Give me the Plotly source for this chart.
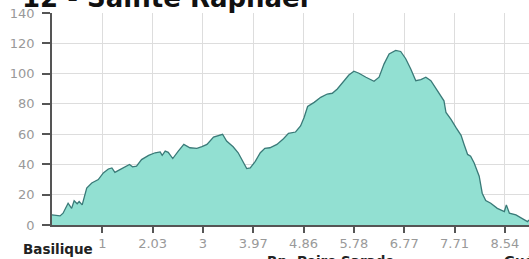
import plotly.graph_objects as go

# sample position along the profile (index axis, 10 samples per tick)
pos = [0, 1.6, 2.2, 3.2, 3.9, 4.4, 5.0, 5.4, 6.0, 6.9, 7.9, 9.2, 10.2, 11.2, 11.9, 12.5, 13.5, 14.5, 15.4, 16.0,
       16.8, 17.8, 19.2, 20.5, 21.5, 21.9, 22.5, 23.1, 24.0, 25.1, 26.2, 27.4, 28.8, 29.8, 30.8, 32.1, 33.1, 33.9,
       34.7, 36.0, 37.0, 38.0, 38.7, 39.4, 40.4, 41.4, 42.3, 43.3, 44.7, 46.0, 47.0,
       48.4, 49.4, 50.1, 50.8, 52.1, 53.4, 54.7, 55.7, 56.7, 58.1, 59.0, 60.0, 61.0, 62.4, 64.0, 65.0, 66.0, 67.0,
       68.3, 69.3, 70.3, 71.3, 72.3, 73.3, 74.3, 75.3, 76.3, 77.3, 77.9, 78.3, 79.3, 80.3, 80.9, 81.3, 81.9, 82.6,
       83.2, 83.9, 84.9, 85.5, 86.2, 87.2, 88.5, 89.9, 90.3, 90.9, 92.2, 93.5, 94.5, 94.8]
elev = [6.7, 6, 7.8, 14.4, 11, 16, 14, 15.5, 13.3, 24.4, 27.7, 30, 34.4, 37, 37.7, 34.8, 36.6, 38.4, 40, 38.4,
        38.8, 43.2, 46, 47.7, 48.3, 46, 48.8, 48, 43.9, 48.8, 53.2, 51, 50.6, 51.7, 53.2, 58, 59.2, 59.9,
        55.4, 51.7, 47.7, 41, 37.3, 37.7, 42, 47.7, 50.6, 51, 53.2, 57, 60.5,
        61.4, 65.4, 71, 78.3, 81, 84.3, 86.5, 87, 89.8, 95.3, 99, 101.6, 100.2, 97.6, 94.9, 97.6, 106.4, 113,
        115.3, 114.6, 109.8, 103, 95.3, 96, 97.6, 95.3, 90.2, 85.4, 82, 74.3, 69.8, 64.3, 61, 59.2, 53.2, 46.6,
        45.5, 41, 32.2, 21, 16.2, 14.4, 11, 8.9, 13.3, 7.8, 6.7, 4.4, 2.2, 3.3]

tick_pos = [10, 20, 30, 40, 50, 60, 70, 80, 90]
km_labels = ["1", "2.03", "3", "3.97", "4.86", "5.78", "6.77", "7.71", "8.54"]

waypoints = ["Basilique", "Rp. Peire Sarade", "Gué"]
waypoint_pos = [1.2, 55.5, 89.5]

title = "12 - Sainte Raphaël"

fig = go.Figure()
fig.add_trace(go.Scatter(
    x=pos, y=elev, mode="lines", fill="tozeroy",
    fillcolor="#92e0d2", line=dict(color="#3a7a78", width=1.3),
    hoverinfo="skip", showlegend=False,
))

fig.update_layout(
    width=529, height=259,
    margin=dict(l=52, r=0, t=13, b=34, pad=0),
    paper_bgcolor="white", plot_bgcolor="white",
    font=dict(family="DejaVu Sans", size=12, color="#999999"),
    xaxis=dict(
        range=[0, 94.8], tickmode="array", tickvals=tick_pos, ticktext=km_labels,
        showgrid=True, gridcolor="#dddddd", gridwidth=1,
        showline=True, linecolor="#555555", linewidth=1.5,
        ticks="outside", ticklen=6, tickcolor="#555555", tickwidth=1.5,
        tickfont=dict(size=13, color="#999999"), zeroline=False, automargin=False,
    ),
    yaxis=dict(
        range=[0, 140], tickmode="array", tickvals=[0, 20, 40, 60, 80, 100, 120, 140],
        showgrid=True, gridcolor="#dddddd", gridwidth=1,
        showline=True, linecolor="#555555", linewidth=1.5,
        ticks="outside", ticklen=8, tickcolor="#555555", tickwidth=1.5,
        ticklabelstandoff=5,
        tickfont=dict(size=13, color="#999999"), zeroline=False, automargin=False,
    ),
)

fig.add_annotation(text=title, xref="paper", yref="paper", x=-32/477, y=1.0, yshift=-2,
                   xanchor="left", yanchor="bottom", showarrow=False,
                   font=dict(family="DejaVu Sans", size=26, color="#111111", weight="bold"))

rows = [-0.111, -0.168, -0.168]
anchors = ["center", "center", "left"]
for name, p, r, a in zip(waypoints, waypoint_pos, rows, anchors):
    fig.add_annotation(text=name, xref="x", yref="paper", x=p, y=r,
                       xanchor=a, yanchor="middle", showarrow=False,
                       font=dict(family="DejaVu Sans", size=13.5, color="#222222", weight="bold"))

fig.write_html("out.html", config={"displayModeBar": False},
               post_script="document.body.style.margin='0';document.body.style.overflow='hidden';")
